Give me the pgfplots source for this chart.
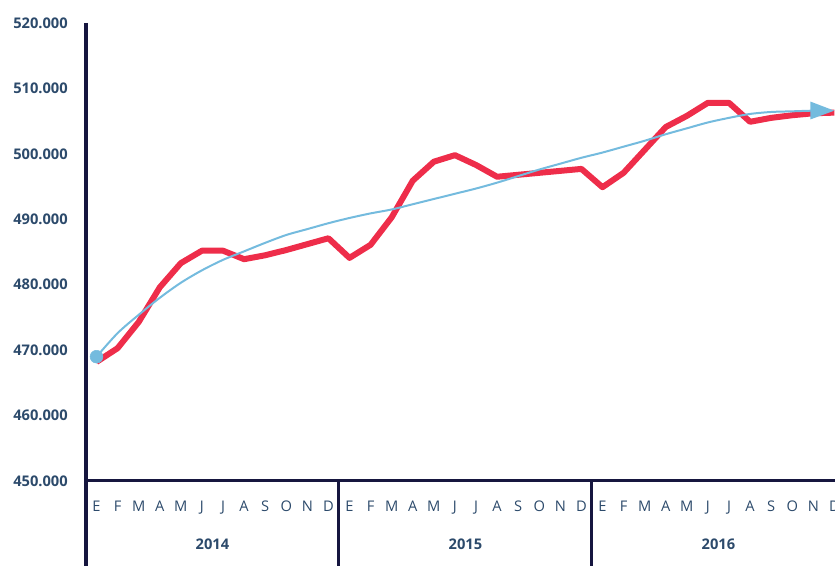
\documentclass[border=0pt]{standalone}
\usepackage{fontspec}
\setmainfont{Open Sans}
\usepackage{pgfplots}
\pgfplotsset{compat=1.18}
\usetikzlibrary{arrows.meta}
\definecolor{navy}{HTML}{16163F}
\definecolor{lab}{HTML}{2C4A6B}
\definecolor{rline}{HTML}{EE2D4A}
\definecolor{bline}{HTML}{74BBDE}
\begin{document}
\begin{tikzpicture}
\useasboundingbox (0pt,0pt) rectangle (626.25pt,424.5pt);
\clip (0pt,0pt) rectangle (626.25pt,424.5pt);
\begin{axis}[
  at={(64.5pt,63.75pt)}, anchor=south west,
  scale only axis, width=569.2pt, height=343.5pt,
  xmin=-0.5, xmax=35.5, ymin=450000, ymax=520000,
  axis line style={draw=none},
  clip=false,
  scaled y ticks=false,
  xtick={0,...,35},
  xticklabels={E,F,M,A,M,J,J,A,S,O,N,D,E,F,M,A,M,J,J,A,S,O,N,D,E,F,M,A,M,J,J,A,S,O,N,D},
  ytick={450000,460000,470000,480000,490000,500000,510000,520000},
  yticklabels={450.000,460.000,470.000,480.000,490.000,500.000,510.000,520.000},
  major tick length=0pt,
  xticklabel style={anchor=base, yshift=-23pt, inner sep=0pt, font=\fontsize{11}{13}\selectfont, text=lab},
  yticklabel style={anchor=east, xshift=-13.5pt, inner sep=0pt, font=\fontsize{11}{13}\selectfont\bfseries, text=lab},
]
\addplot[rline, line width=4.5pt, line join=round] coordinates {
(0,468200) (1,470300) (2,474300) (3,479600) (4,483300) (5,485200) (6,485200) (7,483900) (8,484500) (9,485300) (10,486200) (11,487100)
(12,484100) (13,486100) (14,490300) (15,495900) (16,498800) (17,499800) (18,498300) (19,496500) (20,496800) (21,497100) (22,497400) (23,497700)
(24,494900) (25,497100) (26,500600) (27,504100) (28,505800) (29,507800) (30,507800) (31,504900) (32,505500) (33,505900) (34,506200) (35,506300)
};
\addplot[bline, line width=1.5pt, smooth, -{Triangle[length=18pt,width=13pt]}] coordinates {
(0,469000) (1,472600) (2,475400) (3,478000) (4,480300) (5,482200) (6,483800) (7,485100) (8,486400) (9,487600) (10,488500) (11,489400)
(12,490200) (13,490900) (14,491500) (15,492300) (16,493100) (17,493900) (18,494700) (19,495600) (20,496600) (21,497600) (22,498500) (23,499400)
(24,500200) (25,501100) (26,502000) (27,503000) (28,503900) (29,504800) (30,505500) (31,506100) (32,506400) (33,506500) (34,506600) (35,506600)
};
\addplot[only marks, mark=*, mark size=4.8pt, color=bline] coordinates {(0,469000)};
\draw[navy, line width=2.25pt] (rel axis cs:0,1) -- (axis cs:-0.5,430000);
\draw[navy, line width=2.25pt] (axis cs:-0.5,450000) -- (axis cs:37,450000);
\draw[navy, line width=2.25pt] (axis cs:11.5,450000) -- (axis cs:11.5,430000);
\draw[navy, line width=2.25pt] (axis cs:23.5,450000) -- (axis cs:23.5,430000);
\draw[navy, line width=2.25pt] (axis cs:35.5,450000) -- (axis cs:35.5,430000);
\node[text=lab, font=\fontsize{11}{13}\selectfont\bfseries] at (axis cs:5.5,440400) {2014};
\node[text=lab, font=\fontsize{11}{13}\selectfont\bfseries] at (axis cs:17.5,440400) {2015};
\node[text=lab, font=\fontsize{11}{13}\selectfont\bfseries] at (axis cs:29.5,440400) {2016};
\end{axis}
\end{tikzpicture}
\end{document}
